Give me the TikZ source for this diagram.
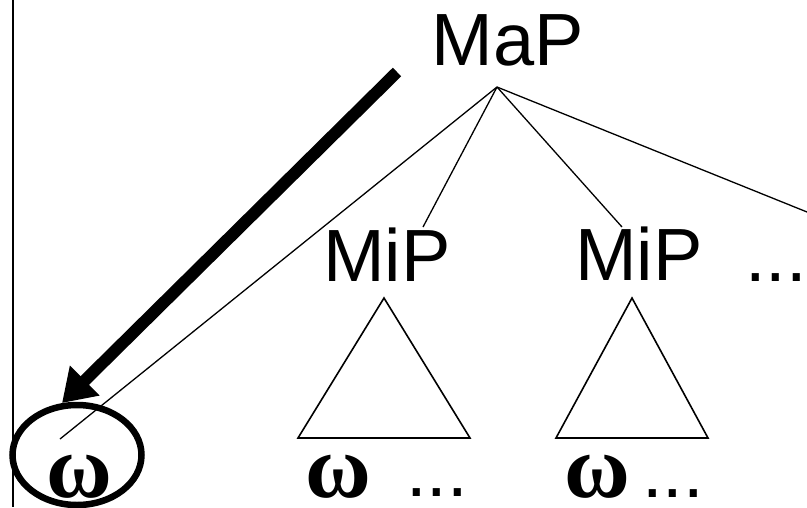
\documentclass[tikz,border=0pt]{standalone}
\usepackage{fontspec}
\setmainfont{Liberation Sans}
\newfontfamily\greekfont{Liberation Serif}
\usepackage{tikz}
\usetikzlibrary{arrows.meta,shapes.geometric}
\tikzset{
  % --- nodes
  lbl/.style   = {font=\fontsize{74}{80}\selectfont, inner sep=0pt},
  leaf/.style  = {font=\greekfont\bfseries\fontsize{90}{96}\selectfont, inner sep=0pt},
  % --- edges
  branch/.style = {line width=1.3pt, draw=black},
  tri/.style    = {line width=1.6pt, draw=black, line join=miter},
  pointer/.style= {-{Triangle[width=40pt,length=32pt]}, line width=12pt, draw=black},
  ring/.style   = {line width=6.5pt, draw=black},
}
\begin{document}
\begin{tikzpicture}[x=1pt,y=-1pt]
  \useasboundingbox (0,0) rectangle (807,507);
  \draw[line width=2pt] (13,0) -- (13,507);

  % labels
  \node[lbl, anchor=base] (map)  at (508,65)  {MaP};
  \node[lbl, anchor=base] (mipa) at (387,281) {MiP};
  \node[lbl, anchor=base] (mipb) at (639,280) {MiP};
  \node[lbl, anchor=base west] (dotsa) at (745,281) {...};
  \node[leaf, anchor=base] (wa) at (79,497)  {ω};
  \node[leaf, anchor=base] (wb) at (338,497) {ω};
  \node[leaf, anchor=base] (wc) at (597,497) {ω};
  \node[lbl, anchor=base west] (dotsb) at (406,496) {...};
  \node[lbl, anchor=base west] (dotsc) at (642,497) {...};

  % branches
  \coordinate (apex) at (497,87);
  \coordinate (enda) at (60,439);
  \coordinate (endb) at (423,227);
  \coordinate (endc) at (622,227);
  \coordinate (endd) at (807,212);
  \foreach \e in {enda,endb,endc,endd}
    \draw[branch] (apex) -- (\e);

  % subtrees
  \draw[tri] (384,298) -- (298,438) -- (470,438) -- cycle;
  \draw[tri] (632,298) -- (556,438) -- (708,438) -- cycle;

  % highlight
  \node[ring, ellipse, minimum width=129pt, minimum height=100pt] (ring) at (77,455) {};
  \coordinate (tail) at (397,72);
  \coordinate (tip) at (62,403);
  \draw[pointer] (tail) -- (tip);
\end{tikzpicture}
\end{document}
